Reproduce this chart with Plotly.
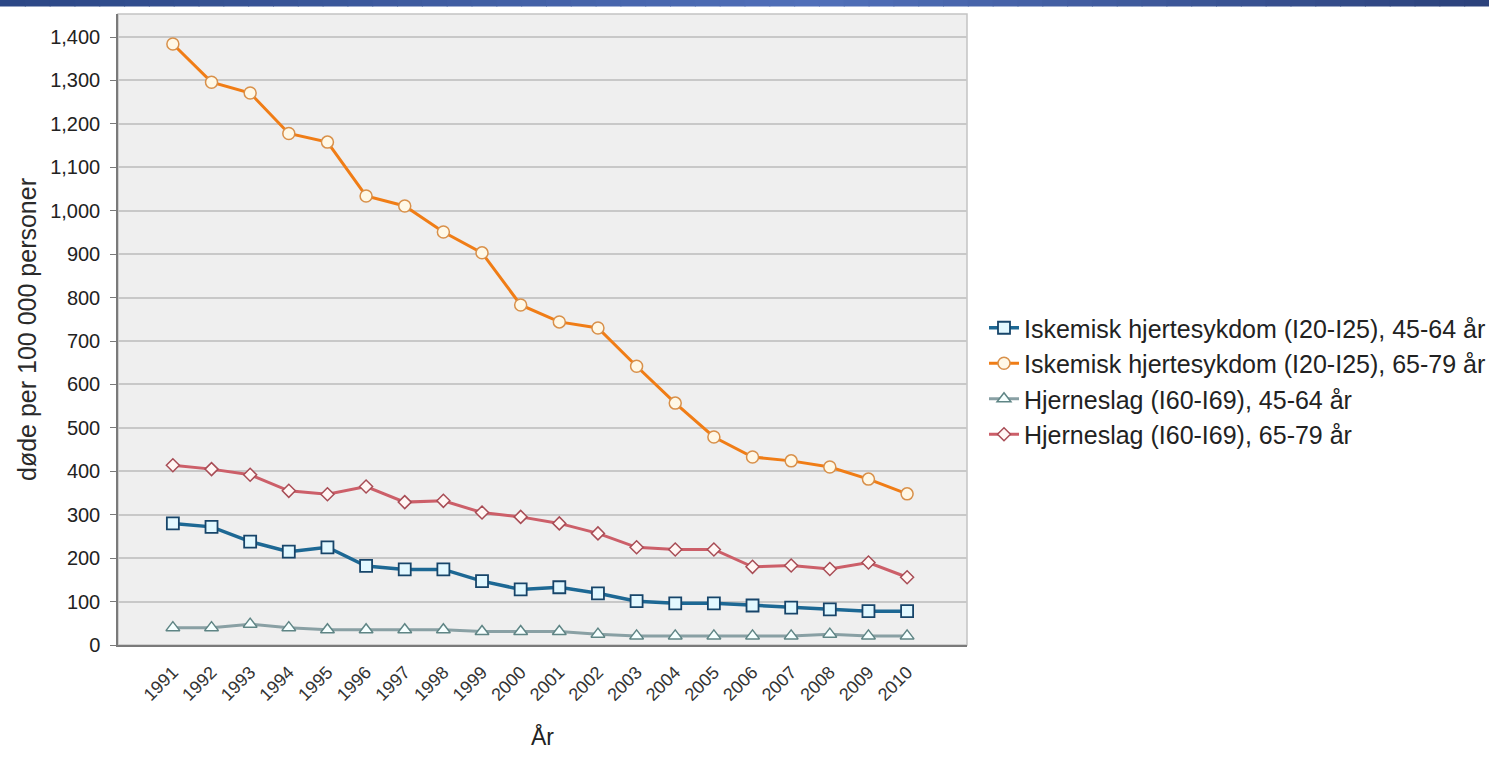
import plotly.graph_objects as go

years = [str(y) for y in range(1991, 2011)]

ihd_45_64 = [280, 272, 238, 215, 225, 182, 174, 174, 147, 128,
             133, 119, 101, 96, 96, 91, 86, 82, 78, 78]
ihd_65_79 = [1384, 1296, 1271, 1178, 1158, 1034, 1011, 951, 903, 783,
             744, 730, 642, 557, 479, 433, 424, 410, 382, 348]
stroke_45_64 = [40, 40, 48, 40, 35, 35, 35, 35, 31, 31,
                31, 25, 21, 21, 21, 21, 21, 25, 21, 21]
stroke_65_79 = [414, 405, 392, 355, 347, 365, 329, 332, 305, 295,
                280, 257, 225, 220, 220, 180, 183, 175, 190, 156]

names = [
    "Iskemisk hjertesykdom (I20-I25), 45-64 år",
    "Iskemisk hjertesykdom (I20-I25), 65-79 år",
    "Hjerneslag (I60-I69), 45-64 år",
    "Hjerneslag (I60-I69), 65-79 år",
]

fig = go.Figure()
fig.add_trace(go.Scatter(
    x=years, y=ihd_45_64, name=names[0], mode="lines+markers",
    line=dict(color="#1d6894", width=3.5),
    marker=dict(symbol="square", size=12, color="#e2f8ff",
                line=dict(color="#17456a", width=1.8))))
fig.add_trace(go.Scatter(
    x=years, y=ihd_65_79, name=names[1], mode="lines+markers",
    line=dict(color="#f07d16", width=3),
    marker=dict(symbol="circle", size=12, color="#fff8e6",
                line=dict(color="#d8904a", width=1.5))))
fig.add_trace(go.Scatter(
    x=years, y=stroke_45_64, name=names[2], mode="lines+markers",
    line=dict(color="#89a0a4", width=3),
    marker=dict(symbol="triangle-up", size=12, color="#f6ffff",
                line=dict(color="#5f8585", width=1.5))))
fig.add_trace(go.Scatter(
    x=years, y=stroke_65_79, name=names[3], mode="lines+markers",
    line=dict(color="#cc5f69", width=3),
    marker=dict(symbol="diamond", size=10, color="#fff6f4",
                line=dict(color="#a84c55", width=1.5))))

# top gradient banner (decoration)
L, R, T, B = 118, 967, 14, 645
W, H = R - L, B - T
def px(x):
    return (x - L) / W
def py(y):
    return (B - y) / H

c_left, c_mid, c_right = (0x2c, 0x47, 0x86), (0x51, 0x70, 0xba), (0x2c, 0x42, 0x7c)
n = 60
shapes = []
for i in range(n):
    t = i / (n - 1)
    if t < 0.55:
        u = t / 0.55
        a, b = c_left, c_mid
    else:
        u = (t - 0.55) / 0.45
        a, b = c_mid, c_right
    col = "rgb(%d,%d,%d)" % tuple(int(a[k] + (b[k] - a[k]) * u) for k in range(3))
    x0 = 1489 * i / n
    x1 = 1489 * (i + 1) / n + 1
    shapes.append(dict(type="rect", xref="paper", yref="paper",
                       x0=px(x0), x1=px(x1), y0=py(6.5), y1=py(-1),
                       fillcolor=col, line=dict(width=0), layer="above"))
# plot border
shapes.append(dict(type="rect", xref="paper", yref="paper", x0=0, x1=1, y0=0, y1=1,
                   line=dict(color="#c4c4c4", width=1.5), layer="below"))

fig.update_layout(
    width=1489, height=781,
    margin=dict(l=L, r=1489 - R, t=T, b=781 - B, pad=0, autoexpand=False),
    paper_bgcolor="white", plot_bgcolor="#efefef",
    font=dict(family="Liberation Sans, Arial, sans-serif", color="#222222", size=14),
    shapes=shapes,
    showlegend=True,
    legend=dict(x=px(984), y=py(381), xanchor="left", yanchor="middle",
                font=dict(size=25, color="#222222"), itemwidth=30,
                bgcolor="rgba(0,0,0,0)"),
    xaxis=dict(type="category", range=[-1.42, 20.55], tickangle=-45,
               showgrid=False, zeroline=False, ticks="",
               tickfont=dict(size=18, color="#333333"), ticklabelstandoff=8,
               title=dict(text="År", font=dict(size=23, color="#222222"), standoff=25),
               showline=True, linecolor="#7a7a7a", linewidth=1.5),
    yaxis=dict(range=[0, 1453], dtick=100, tickformat=",",
               showgrid=True, gridcolor="#c8c8c8", gridwidth=1.5,
               zeroline=False, ticks="outside", ticklen=6, tickcolor="#7a7a7a",
               tickfont=dict(size=20, color="#222222"), ticklabelstandoff=6,
               title=dict(text="døde per 100 000 personer",
                          font=dict(size=25, color="#2a2a2a"), standoff=6),
               showline=True, linecolor="#7a7a7a", linewidth=1.5),
)

fig.write_html("out.html", config={"displayModeBar": False},
               post_script="document.body.style.margin='0px';document.body.style.overflow='hidden';")
